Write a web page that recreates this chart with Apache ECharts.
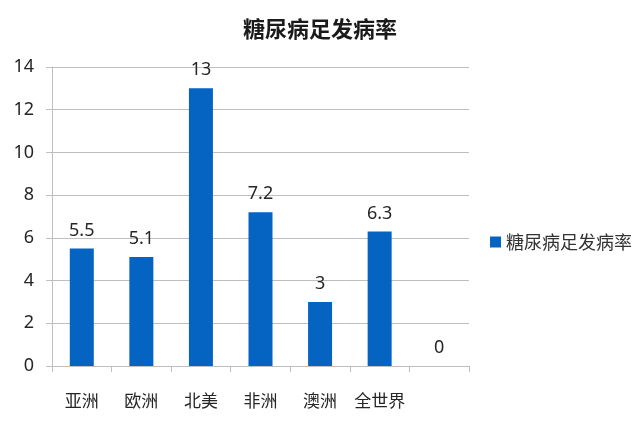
<!DOCTYPE html>
<html><head><meta charset="utf-8">
<script src="https://cdn.jsdelivr.net/npm/echarts@6/dist/echarts.min.js"></script>
<style>html,body{margin:0;padding:0;background:#fff}#c{width:640px;height:427px}</style>
</head><body><div id="c"></div>
<script>
const title = '糖尿病足发病率';
const categories = ['亚洲', '欧洲', '北美', '非洲', '澳洲', '全世界', ''];
const values = [5.5, 5.1, 13, 7.2, 3, 6.3, 0];
const yTicks = {min: 0, max: 14, interval: 2};
const FONT = '"Noto Sans CJK SC", "Noto Sans", sans-serif';
const NUMFONT = '"Noto Sans", sans-serif';
const chart = echarts.init(document.getElementById('c'), null, {renderer: 'canvas'});
chart.setOption({
  animation: false,
  textStyle: {fontFamily: FONT},
  title: {text: title, left: 'center', top: 13,
    textStyle: {fontSize: 22, fontWeight: 'bold', color: '#1a1a1a', fontFamily: FONT}},
  legend: {orient: 'vertical', left: 485, top: 228, itemWidth: 11, itemHeight: 11, itemGap: 6,
    icon: 'rect', textStyle: {fontSize: 18, color: '#333', fontFamily: FONT}, data: [title]},
  grid: {left: 52, right: 171, top: 67, bottom: 61, containLabel: false},
  xAxis: {type: 'category', data: categories,
    axisLine: {lineStyle: {color: '#bfbfbf'}},
    axisTick: {show: true, length: 6, alignWithLabel: false, lineStyle: {color: '#bfbfbf'}},
    axisLabel: {interval: 0, fontSize: 17, color: '#262626', margin: 26, fontFamily: FONT}},
  yAxis: {type: 'value', min: yTicks.min, max: yTicks.max, interval: yTicks.interval,
    axisLine: {show: true, lineStyle: {color: '#bfbfbf'}},
    axisTick: {show: true, length: 6, lineStyle: {color: '#bfbfbf'}},
    splitLine: {lineStyle: {color: '#bfbfbf'}},
    axisLabel: {fontSize: 18, color: '#262626', margin: 18, fontFamily: NUMFONT}},
  series: [{name: title, type: 'bar', data: values, barWidth: 24,
    itemStyle: {color: '#0563c1'},
    label: {show: true, position: 'top', distance: 9, fontSize: 18, color: '#262626',
      fontFamily: NUMFONT}}]
});
</script></body></html>
